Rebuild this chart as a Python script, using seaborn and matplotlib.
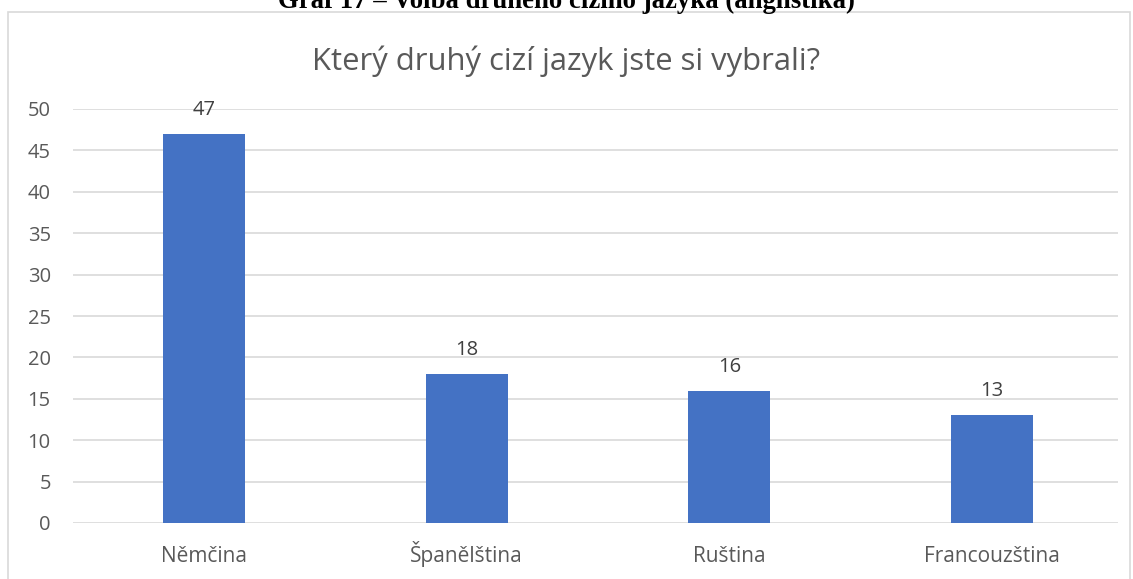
import matplotlib
matplotlib.use("Agg")
import matplotlib.pyplot as plt
import matplotlib.patches as patches
import seaborn as sns
import pandas as pd

# data
languages = ["Němčina", "Španělština", "Ruština", "Francouzština"]
counts = [47, 18, 16, 13]
title = "Který druhý cizí jazyk jste si vybrali?"
caption = "Graf 17 – Volba druhého cizího jazyka (anglistika)"

sns.set_style("white")
plt.rcParams['font.family'] = ['Open Sans', 'DejaVu Sans']

df = pd.DataFrame({"jazyk": languages, "pocet": counts})

fig = plt.figure(figsize=(11.33, 5.79), dpi=100)
ax = fig.add_axes([73 / 1133, 1 - 523 / 579, (1118 - 73) / 1133, (523 - 109) / 579])

sns.barplot(data=df, x="jazyk", y="pocet", color="#4472C4", saturation=1,
            width=0.312, ax=ax, zorder=3)
for p in ax.patches:
    p.set_edgecolor("none")

ax.set_ylim(0, 50)
ax.set_xlim(-0.499, 3.48)
ax.set_yticks(range(0, 51, 5))
ax.yaxis.grid(True, color="#d9d9d9", linewidth=1.2, zorder=0)
for s in ax.spines.values():
    s.set_visible(False)
ax.set_xlabel("")
ax.set_ylabel("")
ax.tick_params(axis="y", length=0, labelsize=14.5, labelcolor="#595959", pad=16)
ax.tick_params(axis="x", length=0, labelsize=15, labelcolor="#595959", pad=28)
for lbl in ax.get_xticklabels():
    lbl.set_va("baseline")

for i, v in enumerate(counts):
    ax.annotate(str(v), (i, v), xytext=(0, 10), textcoords="offset points",
                ha="center", va="bottom", fontsize=14.5, color="#404040")

fig.text(0.5, 1 - 61 / 579, title, ha="center", va="center", fontsize=22.3, color="#595959")

# chart frame
fig.patches.append(patches.Rectangle((8 / 1133, -0.01), (1130 - 8) / 1133, 1 - 12 / 579 + 0.01,
                                     transform=fig.transFigure, fill=False,
                                     edgecolor="#d9d9d9", linewidth=1.2))

# caption above, cut by the image edge
fig.text(0.5, 1 - 8 / 579, caption, ha="center", va="baseline", fontsize=19.3,
         fontweight="bold", family=["Liberation Serif", "DejaVu Serif"], color="black")

fig.savefig("out.png", dpi=100)
